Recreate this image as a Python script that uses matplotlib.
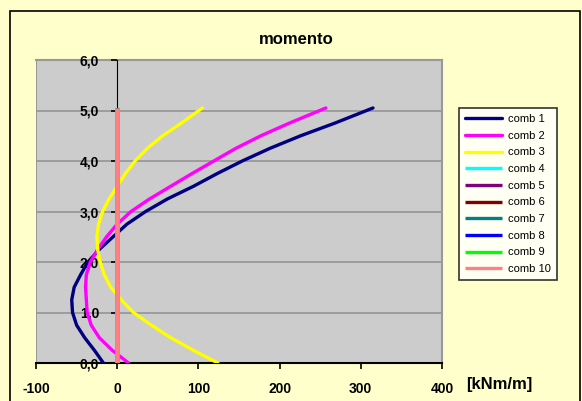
import matplotlib.pyplot as plt
from matplotlib.patches import Rectangle

plt.rcParams['font.family'] = ['Liberation Sans', 'DejaVu Sans']

# depth along the wall [m]
depth = [0, 0.25, 0.5, 0.75, 1.0, 1.25, 1.5, 1.75, 2.0, 2.25, 2.5,
         2.75, 3.0, 3.25, 3.5, 3.75, 4.0, 4.25, 4.5, 4.75, 5.05]

# bending moment per combination [kNm/m]
comb1 = [-17, -28, -40, -50, -55, -56, -53, -45, -36, -22, -5,
         12, 35, 62, 94, 123, 154, 188, 226, 268, 315]
comb2 = [14, -6, -22, -32, -37, -38, -39, -38, -33, -24, -13,
         0, 17, 40, 66, 92, 119, 146, 177, 212, 257]
comb3 = [124, 94, 66, 42, 20, 5, -8, -16, -21, -24, -25,
         -23, -18, -10, 0, 10, 22, 37, 56, 79, 105]
zero = [0] * len(depth)

labels = ["comb %d" % i for i in range(1, 11)]
series = [comb1, comb2, comb3] + [zero] * 7
colors = ["#000080", "#FF00FF", "#FFFF00", "#00FFFF", "#800080",
          "#800000", "#008080", "#0000FF", "#00FF00", "#FF8080"]

x_ticks = [-100, 0, 100, 200, 300, 400]
y_ticks = [0, 1, 2, 3, 4, 5, 6]

fig = plt.figure(figsize=(5.82, 4.01), dpi=100)
fig.patch.set_facecolor("#FFFFCC")

# outer chart frame
fig.patches.append(Rectangle((10 / 582, -0.01), 570 / 582, 1.01 - 11 / 401,
                             transform=fig.transFigure, fill=False,
                             edgecolor="black", linewidth=1.2))

ax = fig.add_axes([36 / 582, 38 / 401, 406 / 582, 303 / 401])
ax.set_facecolor("#CCCCCC")

# axes crossing at x = 0 (set before the tick labels, it resets them)
ax.spines["left"].set_position(("data", 0))
ax.spines["left"].set_color("black")
ax.spines["left"].set_zorder(2)
ax.spines["bottom"].set_color("black")
ax.spines["bottom"].set_linewidth(1.5)
ax.spines["top"].set_color("#999999")
ax.spines["top"].set_linewidth(1.5)
ax.spines["top"].set_zorder(0.4)
ax.spines["right"].set_color("#999999")
ax.spines["right"].set_linewidth(1.5)
ax.axvline(-100, color="#999999", linewidth=1.5, zorder=1)

for i in range(10):
    lw = 3.4 if i == 9 else 2.4
    cap = "butt" if i >= 3 else "round"
    ax.plot(series[i], depth, color=colors[i], linewidth=lw,
            label=labels[i], solid_capstyle=cap, zorder=3)

ax.set_xlim(-100, 400)
ax.set_ylim(0, 6)
ax.set_xticks(x_ticks)
ax.set_yticks(y_ticks)
ax.set_xticklabels([str(v) for v in x_ticks], fontweight="bold", fontsize=10)
ax.set_yticklabels([("%.1f" % v).replace(".", ",") for v in y_ticks],
                   fontweight="bold", fontsize=10)

ax.grid(axis="y", color="#999999", linewidth=1.3, zorder=1)
ax.set_axisbelow(True)

ax.tick_params(axis="x", direction="out", length=4, width=1.2, pad=10)
ax.tick_params(axis="y", direction="out", length=4, width=1.2, pad=9)

fig.text(296 / 582, 1 - 40 / 401, "momento", ha="center", va="center",
         fontsize=12, fontweight="bold")
fig.text(499 / 582, 1 - 385 / 401, "[kNm/m]", ha="center", va="center",
         fontsize=12, fontweight="bold")

leg = ax.legend(loc="upper left", bbox_to_anchor=(459 / 582, 1 - 108 / 401),
                bbox_transform=fig.transFigure, borderaxespad=0,
                fontsize=8, frameon=True, fancybox=False,
                handlelength=3.3, handletextpad=0.6, labelspacing=0.6,
                borderpad=0.55)
leg.get_frame().set_edgecolor("black")
leg.get_frame().set_linewidth(1.2)
leg.get_frame().set_facecolor("white")
for line in leg.get_lines():
    line.set_linewidth(2.4)

fig.savefig("out.png", dpi=100, facecolor=fig.get_facecolor())
